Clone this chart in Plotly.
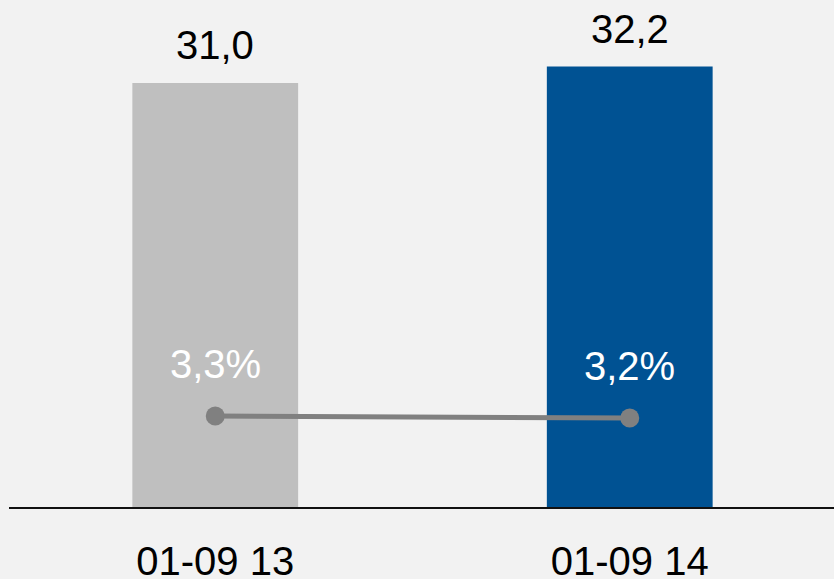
import plotly.graph_objects as go

# Data
periods = ["01-09 13", "01-09 14"]
volumes = [31.0, 32.2]
shares = [3.3, 3.2]
bar_colors = ["#bfbfbf", "#005293"]

def fmt(v, suffix=""):
    return f"{v:.1f}".replace(".", ",") + suffix

fig = go.Figure()

fig.add_trace(go.Bar(
    x=periods, y=volumes, marker=dict(color=bar_colors, line=dict(width=0)),
    width=0.4, showlegend=False, hoverinfo="skip",
))

fig.add_trace(go.Scatter(
    x=periods, y=shares, yaxis="y2", mode="lines+markers",
    line=dict(color="#808080", width=5),
    marker=dict(color="#808080", size=19),
    showlegend=False, hoverinfo="skip",
))

font = "Liberation Sans, Arial, sans-serif"
fsize = 40

annotations = []
for p, v in zip(periods, volumes):
    annotations.append(dict(
        x=p, y=v, xref="x", yref="y", text=fmt(v), showarrow=False,
        yanchor="bottom", yshift=14, font=dict(family=font, size=fsize, color="#000000"),
    ))
for p, s in zip(periods, shares):
    annotations.append(dict(
        x=p, y=s, xref="x", yref="y2", text=fmt(s, "%"), showarrow=False,
        yanchor="bottom", yshift=28, font=dict(family=font, size=fsize, color="#ffffff"),
    ))

fig.update_layout(
    width=834, height=579,
    margin=dict(l=9, r=0, t=0, b=72, autoexpand=False),
    paper_bgcolor="#f2f2f2", plot_bgcolor="#f2f2f2",
    font=dict(family=font, size=fsize, color="#000000"),
    xaxis=dict(
        type="category", range=[-0.4976, 1.4928], automargin=False,
        showline=True, linecolor="#111111", linewidth=2,
        showgrid=False, zeroline=False, ticks="",
        tickfont=dict(family=font, size=fsize, color="#000000"),
        ticklabelstandoff=18,
    ),
    yaxis=dict(range=[0, 37.07], visible=False, showgrid=False, zeroline=False,
               automargin=False),
    yaxis2=dict(range=[-1.25, 24.1], overlaying="y", visible=False,
                showgrid=False, zeroline=False, automargin=False),
    annotations=annotations,
)

fig.write_html("out.html")
